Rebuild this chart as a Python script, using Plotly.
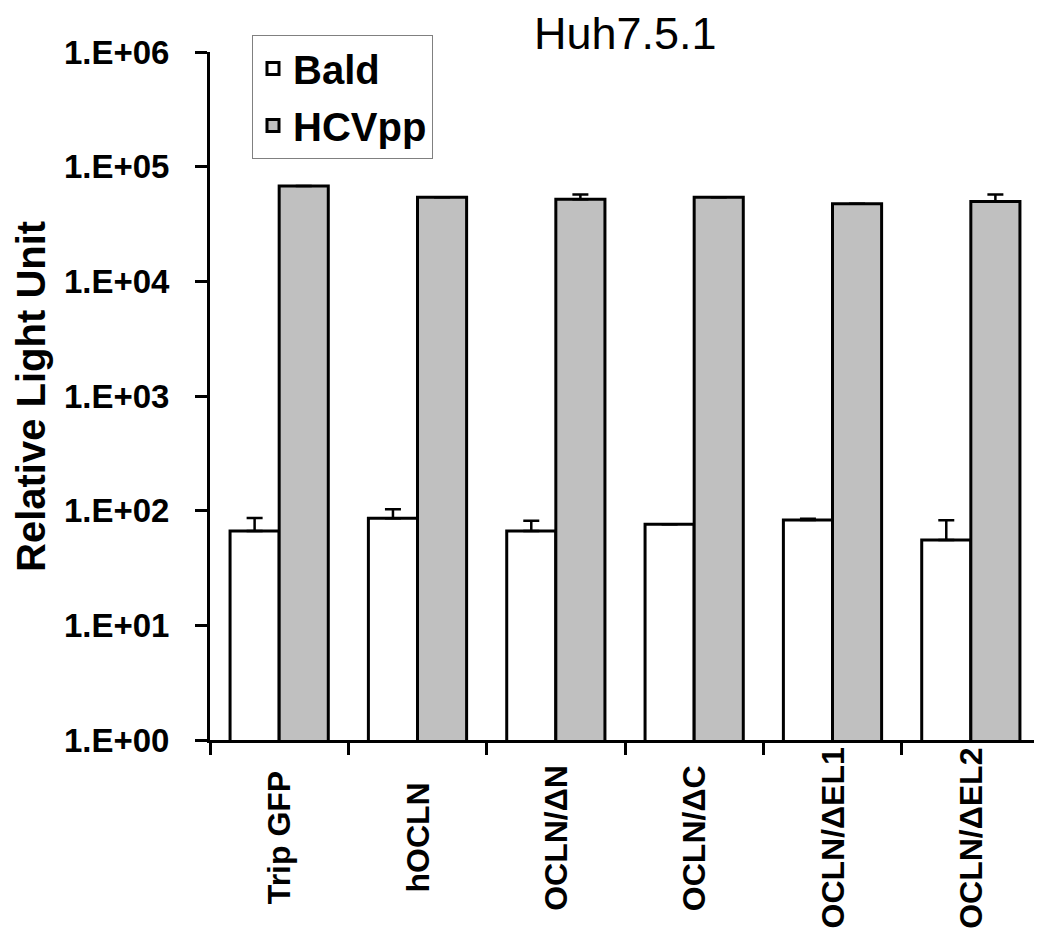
import plotly.graph_objects as go

categories = ["Trip GFP", "hOCLN", "OCLN/ΔN", "OCLN/ΔC", "OCLN/ΔEL1", "OCLN/ΔEL2"]
bald = [66.5, 85.8, 66.5, 76, 82.9, 55.5]
bald_err = [20, 17, 15, 0, 2, 27]
hcvpp = [67800, 54200, 52000, 54200, 47400, 49700]
hcvpp_err = [0, 0, 5200, 0, 0, 7500]
ytick_vals = [1, 10, 100, 1000, 10000, 100000, 1000000]
ytick_text = ["1.E+00", "1.E+01", "1.E+02", "1.E+03", "1.E+04", "1.E+05", "1.E+06"]

FONT = "Liberation Sans, Arial, sans-serif"

fig = go.Figure()
fig.add_trace(go.Bar(
    x=categories, y=bald, name="<b>Bald</b>", legendgroup="a",
    marker=dict(color="white", line=dict(color="black", width=3)),
    error_y=dict(type="data", array=bald_err, symmetric=False, arrayminus=[0]*6,
                 color="black", thickness=2.5, width=8),
))
fig.add_trace(go.Bar(
    x=categories, y=hcvpp, name="<b>HCVpp</b>", legendgroup="b",
    marker=dict(color="#C0C0C0", line=dict(color="black", width=3)),
    error_y=dict(type="data", array=hcvpp_err, symmetric=False, arrayminus=[0]*6,
                 color="black", thickness=2.5, width=8),
))

annotations = []
for c in categories:
    annotations.append(dict(
        x=c, xref="x", y=-0.1424, yref="paper", text=f"<b>{c}</b>",
        textangle=-90, showarrow=False, xanchor="center", yanchor="middle",
        font=dict(family=FONT, size=32, color="black"),
    ))
annotations.append(dict(
    x=0.501, xref="paper", y=1.0262, yref="paper", text="Huh7.5.1",
    showarrow=False, xanchor="center", yanchor="middle",
    font=dict(family=FONT, size=45, color="black"),
))
annotations.append(dict(
    x=-0.2157, xref="paper", y=0.5, yref="paper", text="<b>Relative Light Unit</b>",
    textangle=-90, showarrow=False, xanchor="center", yanchor="middle",
    font=dict(family=FONT, size=40, color="black"),
))

# page has an 8px body margin, so the figure is drawn 8px in and 8px down
fig.update_layout(
    width=1034, height=932,
    margin=dict(l=202, r=2, t=44, b=200),
    paper_bgcolor="white", plot_bgcolor="white",
    barmode="group", bargap=0.29, bargroupgap=0,
    font=dict(family=FONT, color="black"),
    showlegend=True,
    legend=dict(
        x=0.0506, y=1.0247, xanchor="left", yanchor="top",
        bgcolor="white", bordercolor="#808080", borderwidth=1,
        font=dict(family=FONT, size=40, color="black"),
        tracegroupgap=2, itemwidth=30,
    ),
    annotations=annotations,
)
fig.update_xaxes(
    showticklabels=False, showline=True, linecolor="black", linewidth=3,
    ticks="outside", tickson="boundaries", ticklen=12, tickwidth=2.5, tickcolor="black",
    showgrid=False, zeroline=False,
)
fig.update_yaxes(
    type="log", range=[0, 6], tickvals=ytick_vals,
    ticktext=[f"<b>{t}</b>" for t in ytick_text],
    tickfont=dict(family=FONT, size=33, color="black"),
    showline=True, linecolor="black", linewidth=3,
    ticks="outside", ticklen=12, tickwidth=2.5, tickcolor="black",
    ticklabelstandoff=19,
    showgrid=False, zeroline=False,
)

fig.write_html("out.html")
